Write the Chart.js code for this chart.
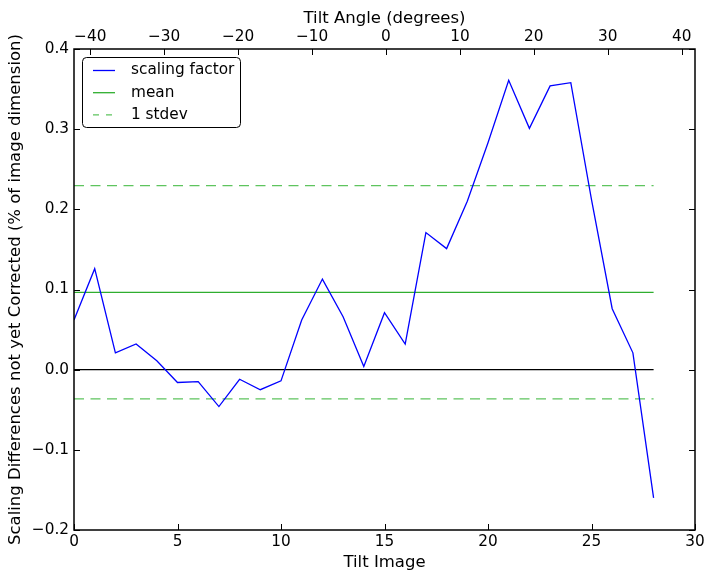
<!DOCTYPE html>
<html>
<head>
<meta charset="utf-8">
<script src="https://cdn.jsdelivr.net/npm/chart.js@4.4.0/dist/chart.umd.min.js"></script>
<style>
  html, body { margin: 0; padding: 0; background: #fff; }
  #wrap { width: 714px; height: 579px; }
</style>
</head>
<body>
<div id="wrap"><canvas id="chart" width="714" height="579"></canvas></div>
<script>
// tilt image index and the measured scaling differences
const tiltImages = [0, 1, 2, 3, 4, 5, 6, 7, 8, 9, 10, 11, 12, 13, 14, 15, 16, 17, 18, 19, 20, 21, 22, 23, 24, 25, 26, 27, 28];
const scalingFactor = [0.062, 0.126, 0.021, 0.032, 0.011, -0.016, -0.015, -0.046, -0.012, -0.025, -0.014, 0.062, 0.113,
  0.066, 0.004, 0.071, 0.032, 0.171, 0.151, 0.210, 0.283, 0.361, 0.301, 0.354, 0.358, 0.212, 0.076, 0.021, -0.160];
const meanValue = 0.0965;
const stdevValue = 0.133;
const lineRange = [0, 28];

const xTicks = [0, 5, 10, 15, 20, 25, 30];
const angleTicks = [-40, -30, -20, -10, 0, 10, 20, 30, 40];
const yTicks = [-0.2, -0.1, 0.0, 0.1, 0.2, 0.3, 0.4];

const FONT = 'DejaVu Sans';
const meanColor = '#2fae2f';
const stdColor = '#5ec45e';

function minus(s) { return s.replace('-', '\u2212'); }
function hline(v) { return lineRange.map(x => ({ x: x, y: v })); }

// matplotlib-like frame with inward ticks on all sides
const framePlugin = {
  id: 'frame',
  afterDatasetsDraw(chart) {
    const ctx = chart.ctx, a = chart.chartArea, s = chart.scales;
    ctx.save();
    ctx.strokeStyle = '#000';
    ctx.lineWidth = 1;
    const len = 6;
    ctx.beginPath();
    xTicks.forEach(t => {
      const px = Math.round(s.x.getPixelForValue(t)) + 0.5;
      ctx.moveTo(px, a.bottom); ctx.lineTo(px, a.bottom - len);
    });
    angleTicks.forEach(t => {
      const px = Math.round(s.x2.getPixelForValue(t)) + 0.5;
      ctx.moveTo(px, a.top); ctx.lineTo(px, a.top + len);
    });
    yTicks.forEach(t => {
      const py = Math.round(s.y.getPixelForValue(t)) + 0.5;
      ctx.moveTo(a.left, py); ctx.lineTo(a.left + len, py);
      ctx.moveTo(a.right, py); ctx.lineTo(a.right - len, py);
    });
    ctx.stroke();
    ctx.lineWidth = 1.5;
    ctx.strokeRect(a.left, a.top, a.right - a.left, a.bottom - a.top);

    // legend box
    const lx = 82.5, ly = 57.5, lw = 158, lh = 70, r = 4;
    ctx.lineWidth = 1;
    ctx.fillStyle = '#fff';
    ctx.beginPath();
    ctx.moveTo(lx + r, ly);
    ctx.arcTo(lx + lw, ly, lx + lw, ly + lh, r);
    ctx.arcTo(lx + lw, ly + lh, lx, ly + lh, r);
    ctx.arcTo(lx, ly + lh, lx, ly, r);
    ctx.arcTo(lx, ly, lx + lw, ly, r);
    ctx.closePath();
    ctx.fill();
    ctx.stroke();
    const items = [
      { label: 'scaling factor', color: '#0000ff', dash: [] },
      { label: 'mean', color: meanColor, dash: [] },
      { label: '1 stdev', color: stdColor, dash: [6, 7] }
    ];
    ctx.font = '15.3px ' + FONT;
    ctx.textBaseline = 'middle';
    items.forEach((it, i) => {
      const y = 70.5 + i * 22.2;
      ctx.strokeStyle = it.color;
      ctx.lineWidth = 1.3;
      ctx.setLineDash(it.dash);
      ctx.beginPath();
      ctx.moveTo(93, y); ctx.lineTo(115, y);
      ctx.stroke();
      ctx.setLineDash([]);
      ctx.fillStyle = '#000';
      ctx.fillText(it.label, 131, y);
    });
    ctx.restore();
  }
};

new Chart(document.getElementById('chart'), {
  type: 'line',
  data: {
    datasets: [
      {
        label: 'scaling factor',
        data: tiltImages.map((x, i) => ({ x: x, y: scalingFactor[i] })),
        borderColor: '#0000ff', borderWidth: 1.3, pointRadius: 0, tension: 0, xAxisID: 'x'
      },
      {
        label: 'mean',
        data: hline(meanValue),
        borderColor: meanColor, borderWidth: 1.3, pointRadius: 0, xAxisID: 'x'
      },
      {
        label: '1 stdev',
        data: hline(meanValue + stdevValue),
        borderColor: stdColor, borderWidth: 1.3, borderDash: [10, 6.5], pointRadius: 0, xAxisID: 'x'
      },
      {
        label: '1 stdev low',
        data: hline(meanValue - stdevValue),
        borderColor: stdColor, borderWidth: 1.3, borderDash: [10, 6.5], pointRadius: 0, xAxisID: 'x'
      },
      {
        label: 'zero',
        data: hline(0),
        borderColor: '#000', borderWidth: 1.3, pointRadius: 0, xAxisID: 'x'
      }
    ]
  },
  options: {
    responsive: false,
    animation: false,
    layout: { padding: { left: 0, right: 19, top: 0, bottom: 0 } },
    plugins: { legend: { display: false }, tooltip: { enabled: false } },
    scales: {
      x: {
        type: 'linear', position: 'bottom', min: 0, max: 30,
        afterFit: s => { s.height = 49; },
        grid: { display: false, drawTicks: false }, border: { display: false },
        ticks: { stepSize: 5, color: '#000', font: { family: FONT, size: 15.3 }, padding: 3, maxRotation: 0 },
        title: { display: true, text: 'Tilt Image', color: '#000', font: { family: FONT, size: 16.5 }, padding: { top: 1, bottom: 6 } }
      },
      x2: {
        type: 'linear', position: 'top', min: -42.2, max: 41.8,
        afterFit: s => { s.height = 49; },
        grid: { display: false, drawTicks: false }, border: { display: false },
        ticks: { stepSize: 10, includeBounds: false, color: '#000', font: { family: FONT, size: 15.3 }, padding: 3, maxRotation: 0,
          callback: v => minus(String(v)) },
        title: { display: true, text: 'Tilt Angle (degrees)', color: '#000', font: { family: FONT, size: 16.5 }, padding: { top: 9, bottom: 0 } }
      },
      y: {
        type: 'linear', min: -0.2, max: 0.4,
        afterFit: s => { s.width = 74; },
        grid: { display: false, drawTicks: false }, border: { display: false },
        ticks: { stepSize: 0.1, color: '#000', font: { family: FONT, size: 15.3 }, padding: 5,
          callback: v => minus((Math.abs(v) < 1e-9 ? 0 : v).toFixed(1)) },
        title: { display: true, text: 'Scaling Differences not yet Corrected (% of image dimension)', color: '#000',
          font: { family: FONT, size: 16.5 }, padding: { top: 6, bottom: 4 } }
      }
    }
  },
  plugins: [framePlugin]
});
</script>
</body>
</html>
